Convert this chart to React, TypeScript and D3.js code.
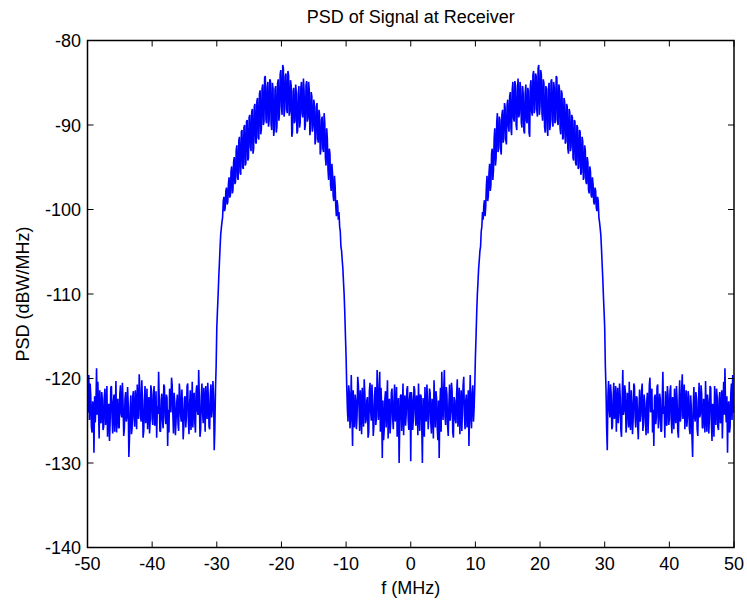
import React from "react";
import * as d3 from "d3";

// PSD values (dBW/MHz) for the positive frequencies, sampled every 0.1 MHz.
// f = 0.0 .. 9.9 MHz (inner noise floor)
const floorInner = [
  -129.8, -121.6, -122.5, -126.1, -124.8, -120.9, -121.3, -124.2, -125.6, -122.0,
  -123.0, -126.7, -120.6, -123.8, -126.2, -121.9, -122.1, -125.4, -130.0, -122.3,
  -123.7, -126.9, -121.0, -124.1, -125.1, -120.7, -122.8, -126.0, -124.6, -121.2,
  -121.7, -125.2, -126.5, -122.4, -123.2, -127.1, -120.2, -123.0, -125.8, -121.5,
  -122.4, -125.9, -127.3, -122.6, -129.4, -123.4, -121.1, -126.3, -119.2, -122.8,
  -124.9, -121.3, -119.0, -124.5, -125.5, -121.0, -122.0, -125.6, -126.8, -123.1,
  -120.7, -125.0, -123.9, -120.5, -121.5, -126.4, -127.0, -122.2, -122.6, -124.9,
  -125.3, -121.8, -120.1, -125.7, -124.2, -121.1, -126.6, -123.3, -121.4, -126.2,
  -123.5, -120.8, -119.8, -124.4, -126.0, -122.7, -121.9, -125.8, -124.7, -121.4,
  -128.0, -123.9, -119.6, -124.6, -125.9, -121.7, -120.8, -125.1, -123.6, -121.0,
];
// f = 10.0 .. 29.9 MHz (signal lobe)
const lobe = [
  -117.5, -115.0, -112.3, -110.1, -108.6, -107.0, -106.0, -104.9, -104.4, -102.6,
  -102.0, -100.3, -101.2, -99.5, -98.9, -100.8, -99.6, -97.2, -96.0, -99.0,
  -98.4, -95.7, -94.6, -97.8, -97.1, -93.4, -92.8, -96.5, -95.3, -91.6,
  -90.4, -94.8, -93.9, -89.7, -88.6, -93.2, -92.7, -89.0, -89.4, -92.9,
  -93.5, -88.8, -88.2, -92.1, -91.6, -87.4, -87.9, -91.8, -92.3, -87.6,
  -87.0, -90.1, -90.8, -86.6, -86.1, -90.4, -91.2, -85.8, -84.9, -89.2,
  -89.6, -84.8, -85.3, -90.0, -90.6, -85.9, -84.5, -89.1, -88.7, -84.9,
  -85.6, -89.7, -90.3, -85.4, -86.4, -90.7, -91.0, -86.2, -85.2, -89.5,
  -89.8, -85.6, -86.0, -90.9, -91.4, -85.3, -84.7, -88.4, -88.9, -84.1,
  -83.6, -88.6, -88.1, -83.9, -84.2, -88.3, -89.0, -83.3, -82.9, -88.8,
  -87.8, -83.5, -84.0, -88.7, -89.5, -84.6, -85.1, -90.2, -90.9, -85.4,
  -85.8, -90.5, -91.3, -85.7, -85.0, -90.6, -89.9, -84.8, -84.6, -89.4,
  -90.2, -84.9, -85.5, -89.8, -89.3, -84.2, -84.4, -89.6, -90.0, -85.2,
  -85.7, -90.4, -91.1, -85.9, -86.3, -91.7, -91.5, -86.8, -87.2, -92.2,
  -92.0, -87.5, -87.8, -92.8, -93.4, -88.1, -88.5, -93.1, -92.6, -88.8,
  -89.1, -93.9, -94.2, -89.4, -89.6, -94.5, -94.8, -90.0, -90.3, -95.2,
  -95.0, -90.6, -90.8, -95.9, -95.6, -91.4, -91.9, -96.5, -96.2, -92.4,
  -93.0, -96.7, -97.0, -93.8, -94.4, -97.7, -98.1, -94.9, -95.5, -98.3,
  -98.6, -96.2, -97.0, -99.1, -99.4, -97.4, -97.8, -99.8, -100.2, -98.5,
  -99.0, -100.9, -101.5, -102.2, -103.0, -104.6, -106.4, -108.1, -110.2, -112.0,
];
// f = 30.0 .. 50.0 MHz (outer noise floor)
const floorOuter = [
  -114.0, -118.5, -121.2, -125.9, -128.5, -122.0, -120.3, -123.6, -124.6, -120.7,
  -121.8, -126.0, -125.7, -122.4, -120.5, -124.8, -123.4, -120.9, -126.3, -123.0,
  -121.1, -125.3, -124.0, -120.6, -122.2, -126.1, -126.9, -122.5, -119.0, -124.3,
  -123.8, -120.8, -121.6, -126.4, -125.2, -121.7, -122.7, -125.8, -120.4, -124.7,
  -126.1, -121.4, -123.0, -126.6, -124.9, -120.6, -120.9, -124.5, -125.8, -122.1,
  -122.3, -125.6, -127.2, -123.5, -121.3, -125.1, -124.3, -121.6, -120.6, -126.2,
  -125.4, -121.9, -122.9, -125.0, -126.7, -122.8, -121.7, -126.5, -124.1, -120.8,
  -119.9, -124.0, -123.6, -121.2, -126.4, -123.7, -128.0, -122.3, -121.9, -125.4,
  -124.5, -121.0, -120.7, -125.9, -125.0, -121.8, -122.5, -126.3, -126.2, -122.6,
  -119.2, -124.2, -123.3, -127.0, -121.5, -124.6, -125.6, -120.9, -122.0, -125.5,
  -124.8, -121.5, -120.8, -124.9, -126.5, -122.2, -123.1, -126.0, -121.2, -124.4,
  -125.3, -120.9, -122.6, -126.2, -127.0, -122.7, -120.2, -125.1, -124.4, -121.3,
  -119.5, -124.8, -123.7, -120.7, -126.0, -123.3, -121.4, -125.7, -124.7, -121.5,
  -122.1, -125.9, -126.6, -122.0, -123.5, -126.9, -129.3, -123.1, -121.0, -124.5,
  -125.1, -121.6, -122.4, -126.0, -126.8, -122.9, -120.5, -124.6, -124.2, -120.8,
  -121.8, -125.8, -125.9, -122.4, -123.2, -126.4, -120.3, -123.8, -126.3, -121.9,
  -122.8, -126.5, -124.6, -120.9, -121.1, -125.2, -127.4, -123.0, -123.9, -126.9,
  -120.9, -124.1, -125.5, -121.2, -122.2, -125.7, -126.1, -122.5, -121.6, -125.3,
  -124.8, -121.4, -127.1, -123.6, -120.4, -124.3, -118.8, -123.4, -125.2, -122.1,
  -128.8, -123.2, -122.7, -126.4, -125.7, -121.9, -120.6, -124.9, -119.6, -123.9,
  -124.0,
];

const freqStep = 0.1; // MHz between samples
const xTicks = [-50, -40, -30, -20, -10, 0, 10, 20, 30, 40, 50];
const yTicks = [-140, -130, -120, -110, -100, -90, -80];
const titleText = "PSD of Signal at Receiver";
const xLabel = "f (MHz)";
const yLabel = "PSD (dBW/MHz)";

// The spectrum of the real signal is symmetric: negative side mirrors positive side.
const psdPositive = [...floorInner, ...lobe, ...floorOuter];
const points: [number, number][] = [];
for (let i = psdPositive.length - 1; i >= 1; i--) points.push([-i * freqStep, psdPositive[i]]);
for (let i = 0; i < psdPositive.length; i++) points.push([i * freqStep, psdPositive[i]]);

const W = 747;
const H = 602;
const L = 87.5;
const R = 734;
const T = 40.5;
const B = 547.5;
const FONT = "Arial, 'Liberation Sans', Helvetica, sans-serif";

export default function App() {
  const x = d3.scaleLinear().domain([-50, 50]).range([L, R]);
  const y = d3.scaleLinear().domain([-140, -80]).range([B, T]);
  const line = d3
    .line<[number, number]>()
    .x((d) => x(d[0]))
    .y((d) => y(d[1]));
  const tickLen = 6;
  return (
    <div style={{ position: "absolute", left: 0, top: 0 }}>
      <svg width={W} height={H} style={{ display: "block", background: "#fff" }}>
        <rect x={0} y={0} width={W} height={H} fill="#fff" />
        <path
          d={line(points) || ""}
          fill="none"
          stroke="#0000ff"
          strokeWidth={1.6}
          strokeLinejoin="miter"
          strokeMiterlimit={2}
        />
        <rect x={L} y={T} width={R - L} height={B - T} fill="none" stroke="#000" strokeWidth={1.5} />
        {xTicks.map((t) => (
          <g key={"x" + t}>
            <line x1={x(t)} x2={x(t)} y1={B} y2={B - tickLen} stroke="#000" strokeWidth={1} />
            <line x1={x(t)} x2={x(t)} y1={T} y2={T + tickLen} stroke="#000" strokeWidth={1} />
            <text x={x(t)} y={570} textAnchor="middle" fontFamily={FONT} fontSize={18} fill="#000">
              {t}
            </text>
          </g>
        ))}
        {yTicks.map((t) => (
          <g key={"y" + t}>
            <line x1={L} x2={L + tickLen} y1={y(t)} y2={y(t)} stroke="#000" strokeWidth={1} />
            <line x1={R} x2={R - tickLen} y1={y(t)} y2={y(t)} stroke="#000" strokeWidth={1} />
            <text x={81} y={y(t) + 6.5} textAnchor="end" fontFamily={FONT} fontSize={18} fill="#000">
              {t}
            </text>
          </g>
        ))}
        <text x={(L + R) / 2} y={23} textAnchor="middle" fontFamily={FONT} fontSize={18} fill="#000">
          {titleText}
        </text>
        <text x={(L + R) / 2} y={594} textAnchor="middle" fontFamily={FONT} fontSize={18} fill="#000">
          {xLabel}
        </text>
        <text
          transform={`translate(29, ${(T + B) / 2}) rotate(-90)`}
          textAnchor="middle"
          fontFamily={FONT}
          fontSize={18}
          fill="#000"
        >
          {yLabel}
        </text>
      </svg>
    </div>
  );
}
